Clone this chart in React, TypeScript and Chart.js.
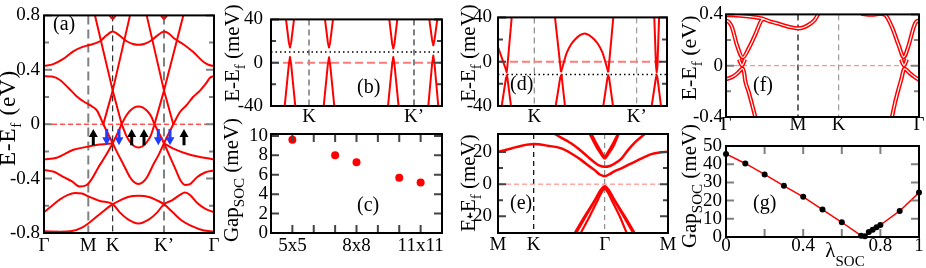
import React, { useEffect, useRef } from 'react';
import { Chart, registerables } from 'chart.js';

Chart.register(...registerables);

const W = 926;
const H = 268;
const SERIF = '"Liberation Serif", "Times New Roman", Times, serif';
const RED = '#ff0000';
const PINK = '#ff7a7a';
const GRAY = '#808080';
const BLUE = '#1f3cff';
const YW = 40;
const XH = 24;

// ---------------- Panel (a): bands, E-Ef (eV) vs k-path ----------------
const aXTicks = [0, 0.443, 0.687, 1.2, 1.7];
const aXLabels = ['Γ', 'M', 'K', 'K’', 'Γ'];
const aYTicks = [-0.8, -0.4, 0, 0.4, 0.8];
const aYLabels = ['-0.8', '-0.4', '0', '0.4', '0.8'];
const aYMinor = [-0.6, -0.2, 0.2, 0.6];

const aU1K = [0, 0.093, 0.193, 0.293, 0.393, 0.443, 0.56, 0.62, 0.687, 0.75, 0.827, 0.89, 0.944, 1.0, 1.06, 1.14, 1.2, 1.26, 1.293, 1.393, 1.493, 1.593, 1.65, 1.7];
const aU1E = [0.428, 0.442, 0.48, 0.536, 0.57, 0.58, 0.61, 0.65, 0.682, 0.655, 0.61, 0.59, 0.584, 0.59, 0.61, 0.655, 0.682, 0.66, 0.635, 0.588, 0.53, 0.459, 0.435, 0.428];
const aU2LK = [0, 0.08, 0.16, 0.24, 0.32, 0.4, 0.46, 0.53, 0.593];
const aU2LE = [0.353, 0.35, 0.325, 0.27, 0.21, 0.165, 0.14, 0.1, 0];
const aU2RK = [1.293, 1.36, 1.427, 1.49, 1.56, 1.62, 1.66, 1.7];
const aU2RE = [0, 0.09, 0.141, 0.2, 0.247, 0.3, 0.341, 0.353];
const aLAK = [0.51, 0.687, 0.777];
const aLBK = [0.86, 0.687, 0.593];
const aLCK = [1.027, 1.2, 1.293];
const aLDK = [1.393, 1.2, 1.105];
const aConeE = [0.8, 0.247, 0];
const aDomeK = [0.777, 0.82, 0.86, 0.9, 0.944, 0.99, 1.03, 1.07, 1.105];
const aDomeE = [0, 0.06, 0.099, 0.122, 0.13, 0.122, 0.099, 0.06, 0];
const aCupE = [0, -0.08, -0.13, -0.16, -0.172, -0.16, -0.13, -0.08, 0];
const aTopK1 = [0.64, 0.687, 0.73];
const aTopK2 = [1.155, 1.2, 1.245];
const aTopE = [0.82, 0.775, 0.82];
const aFlatLK = [0, 0.127, 0.293, 0.443, 0.56, 0.687];
const aFlatLE = [-0.259, -0.247, -0.188, -0.165, -0.15, -0.14];
const aFlatRK = [1.2, 1.293, 1.46, 1.7];
const aFlatRE = [-0.14, -0.18, -0.224, -0.259];
const aEK = [0.593, 0.687, 0.74, 0.793, 0.86, 0.9, 0.944, 0.99, 1.03, 1.095, 1.15, 1.2, 1.293];
const aEE = [0, -0.14, -0.22, -0.294, -0.39, -0.425, -0.44, -0.425, -0.39, -0.294, -0.22, -0.14, 0];
const aFK = [0, 0.1, 0.193, 0.28, 0.36, 0.427, 0.48, 0.543, 0.61, 0.687, 0.777];
const aFE = [-0.336, -0.35, -0.388, -0.42, -0.459, -0.447, -0.4, -0.318, -0.24, -0.14, 0];
const aGK = [1.105, 1.2, 1.26, 1.32, 1.37, 1.41, 1.46, 1.53, 1.61, 1.7];
const aGE = [0, -0.14, -0.24, -0.34, -0.42, -0.447, -0.44, -0.39, -0.355, -0.341];
const aP1K = [0, 0.08, 0.16, 0.24, 0.31, 0.38, 0.44, 0.56, 0.687, 0.76, 0.84, 0.944, 1.05, 1.13, 1.2, 1.28, 1.36, 1.41, 1.46, 1.53, 1.61, 1.7];
const aP1E = [-0.647, -0.6, -0.553, -0.52, -0.506, -0.51, -0.53, -0.565, -0.588, -0.65, -0.7, -0.73, -0.7, -0.65, -0.588, -0.56, -0.52, -0.503, -0.52, -0.577, -0.62, -0.647];
const aP2K = [0, 0.16, 0.28, 0.38, 0.443, 0.56, 0.687, 0.76, 0.84, 0.944, 1.05, 1.13, 1.2, 1.29, 1.38, 1.48, 1.59, 1.7];
const aP2E = [-0.788, -0.79, -0.785, -0.76, -0.73, -0.66, -0.588, -0.56, -0.535, -0.527, -0.535, -0.56, -0.588, -0.65, -0.71, -0.75, -0.78, -0.79];
const aArrK = [0.493, 0.627, 0.75, 0.877, 1.0, 1.143, 1.26, 1.4];
const aArrUp = [true, false, false, true, true, false, false, true];
const aArrTop = -0.035;
const aArrBot = -0.155;

// ---------------- Panel (b): zoom near K, K' (meV) ----------------
const bXTicks = [0.38, 1.43];
const bXLabels = ['K', 'K’'];
const bYTicks = [-40, 0, 40];
const bYLabels = ['-40', '0', '40'];
const bYMinor = [-20, 20];
const b1UK = [0.15, 0.178, 0.19, 0.202, 0.23];
const b1UE = [40, 19, 14, 19, 40];
const b1LK = [0.137, 0.178, 0.19, 0.202, 0.243];
const b1LE = [-40, -2, 5.3, -2, -40];
const b2UK = [0.54, 0.568, 0.58, 0.592, 0.62];
const b2UE = [40, 19, 14, 19, 40];
const b2LK = [0.527, 0.568, 0.58, 0.592, 0.633];
const b2LE = [-40, -2, 5, -2, -40];
const b3UK = [1.183, 1.211, 1.223, 1.235, 1.263];
const b3UE = [40, 18, 13, 18, 40];
const b3LK = [1.17, 1.211, 1.223, 1.235, 1.276];
const b3LE = [-40, -2, 5.3, -2, -40];
const b4UK = [1.583, 1.611, 1.623, 1.635, 1.663];
const b4UE = [40, 21, 16, 21, 40];
const b4LK = [1.573, 1.611, 1.623, 1.635, 1.673];
const b4LE = [-40, -1, 6.6, -1, -40];
const bDotted = 10;

// ---------------- Panel (c): Gap_SOC vs supercell ----------------
const cSize = [5, 7, 8, 10, 11];
const cGap = [9.6, 8.0, 7.3, 5.7, 5.2];
const cXTicks = [5, 8, 11];
const cXLabels = ['5x5', '8x8', '11x11'];
const cXMarks = [5, 6, 7, 8, 9, 10, 11];
const cYTicks = [0, 2, 4, 6, 8, 10];
const cYLabels = ['0', '2', '4', '6', '8', '10'];

// ---------------- Panel (d) ----------------
const dXTicks = [0.363, 1.387];
const dV1K = [0, 0.077, 0.087, 0.095, 0.137];
const dV1E = [13.3, -6.5, -9.5, -3, 40];
const dL1K = [0.037, 0.08, 0.087, 0.094, 0.13];
const dArmLK = [0.57, 0.63];
const dArmLE = [40, -9.5];
const dDomeK = [0.63, 0.66, 0.687, 0.73, 0.77, 0.82, 0.867, 0.91, 0.963, 1.003, 1.046, 1.073, 1.103];
const dDomeE = [-9.5, 0, 7.9, 15.5, 20, 24, 25.5, 24, 20, 15.5, 7.9, 0, -9.5];
const dArmRK = [1.103, 1.153];
const dArmRE = [-9.5, 40];
const dL2K = [0.577, 0.622, 0.63, 0.638, 0.67];
const dL3K = [1.053, 1.095, 1.103, 1.111, 1.15];
const dV4K = [1.563, 1.58, 1.587, 1.594, 1.611];
const dV4E = [40, -4, -9.5, -4, 40];
const dL4K = [1.537, 1.579, 1.587, 1.595, 1.63];
const dLE = [-40, -14.5, -12.3, -14.5, -40];
const dDotted = -11.5;

// ---------------- Panel (e) ----------------
const eXTicks = [0, 0.357, 1.067, 1.7];
const eXLabels = ['M', 'K', 'Γ', 'M'];
const eYTicks = [-20, 0, 20];
const eYLabels = ['-20', '0', '20'];
const eYMinor = [-10, 10];
const eE1K = [0, 0.134, 0.237, 0.357, 0.497, 0.634, 0.737, 0.834, 0.917, 0.967, 1.017, 1.067, 1.117, 1.167, 1.234, 1.317, 1.4, 1.467, 1.534, 1.617, 1.7];
const eE1E = [20.2, 22.3, 24, 25, 24, 22.3, 19, 15, 11, 8.75, 6, 5, 6.3, 8.1, 9.8, 12.5, 15, 17, 18.75, 19.8, 20.2];
const eE2K = [0.567, 0.734, 0.817, 0.9, 0.967, 1.017, 1.067, 1.117, 1.167, 1.234, 1.3, 1.377, 1.467];
const eE2E = [31.3, 25.4, 21.5, 17, 13.5, 11.5, 10.8, 11.3, 12.9, 16, 21.25, 26.5, 31.3];
const eV1K = [0.917, 0.977, 1.027, 1.067, 1.107, 1.157, 1.207];
const eV1E = [31.3, 24, 19, 16, 19, 24, 31.3];
const eV2K = [0.937, 0.992, 1.035, 1.067, 1.099, 1.142, 1.197];
const eV2E = [31.3, 24.5, 20, 17.2, 20, 24.5, 31.3];
const eA1K = [0.767, 0.867, 0.967, 1.027, 1.067, 1.107, 1.167, 1.267, 1.367];
const eA1E = [-30.5, -20, -10, -3.5, -1.3, -3.5, -10, -20, -30.5];
const eA2K = [0.782, 0.879, 0.974, 1.03, 1.067, 1.104, 1.16, 1.255, 1.352];
const eA2E = [-30.5, -20, -10, -3.9, -1.8, -3.9, -10, -20, -30.5];
const eA3K = [0.827, 0.917, 0.997, 1.037, 1.067, 1.097, 1.137, 1.217, 1.287];
const eA3E = [-30.5, -20, -10, -5, -3, -5, -10, -20, -30.5];

// ---------------- Panel (f) ----------------
const fXTicks = [0, 0.72, 1.127, 1.93];
const fXLabels = ['Γ', 'M', 'K', 'Γ'];
const fYTicks = [-0.4, 0, 0.4];
const fYLabels = ['-0.4', '0', '0.4'];
const fYMinor = [-0.2, 0.2];
const fTopK = [0, 0.14, 0.29, 0.36, 0.44, 0.527, 0.62, 0.72, 0.78, 0.843, 0.89, 0.927];
const fTopE = [0.395, 0.39, 0.378, 0.368, 0.345, 0.327, 0.305, 0.291, 0.3, 0.327, 0.36, 0.41];
const fTopRK = [1.35, 1.45, 1.54];
const fTopRE = [0.405, 0.398, 0.405];
const fVLK = [0, 0.03, 0.06, 0.11, 0.167, 0.227, 0.293, 0.353, 0.38];
const fVLE = [0.352, 0.34, 0.3, 0.16, 0.064, 0.135, 0.243, 0.352, 0.365];
const fVRK = [1.54, 1.593, 1.66, 1.727, 1.777, 1.827, 1.877, 1.9, 1.93];
const fVRE = [0.405, 0.395, 0.3, 0.159, 0.067, 0.16, 0.3, 0.34, 0.352];
const fValLK = [0, 0.07, 0.12, 0.15, 0.165, 0.18, 0.193, 0.225, 0.26, 0.293];
const fValLE = [-0.106, -0.085, -0.055, -0.03, -0.022, -0.05, -0.12, -0.2, -0.3, -0.4];
const fValRK = [1.66, 1.69, 1.727, 1.755, 1.77, 1.782, 1.8, 1.84, 1.88, 1.93];
const fValRE = [-0.4, -0.29, -0.178, -0.1, -0.05, -0.025, -0.03, -0.06, -0.085, -0.111];
const fDLK = [0.13, 0.16, 0.19];
const fDRK = [1.75, 1.78, 1.81];
const fDE = [0.05, 0.003, 0.05];

// ---------------- Panel (g): Gap_SOC vs lambda_SOC ----------------
const gLambda = [0, 0.1, 0.2, 0.3, 0.4, 0.5, 0.6, 0.7, 0.72, 0.74, 0.76, 0.78, 0.8, 0.9, 1.0];
const gGap = [45.6, 40.4, 34.4, 28.1, 22.1, 15.1, 8.1, 0.7, 0.4, 2.8, 4.0, 5.3, 6.6, 14.3, 24.4];
const gXTicks = [0, 0.2, 0.4, 0.6, 0.8, 1];
const gXLabels = ['0', '', '0.4', '', '0.8', '1'];
const gYTicks = [0, 10, 20, 30, 40, 50];
const gYLabels = ['0', '10', '20', '30', '40', '50'];

// ---------------- helpers ----------------
type Part = [string, boolean];
const T_EV: Part[] = [['E-E', false], ['f', true], [' (eV)', false]];
const T_MEV: Part[] = [['E-E', false], ['f', true], [' (meV)', false]];
const T_GAP: Part[] = [['Gap', false], ['SOC', true], [' (meV)', false]];
const T_LAM: Part[] = [['λ', false], ['SOC', true]];

const line = (k: number[], e: number[], smooth: boolean, width = 2, color = RED, order = 5) => ({
  data: k.map((x, i) => ({ x, y: e[i] })),
  showLine: true,
  borderColor: color,
  backgroundColor: color,
  borderWidth: width,
  pointRadius: 0,
  pointHoverRadius: 0,
  tension: smooth ? 0.4 : 0,
  cubicInterpolationMode: smooth ? 'monotone' : 'default',
  borderJoinStyle: 'round',
  clip: 0,
  order,
});

const dbl = (k: number[], e: number[]) => [line(k, e, true, 4.2, RED, 3), line(k, e, true, 1.2, '#ffffff', 1)];

interface LineSpec { v: number; color: string; width: number; dash: number[] }
interface TitleSpec { parts: Part[]; x: number; y: number; size: number; sub: number; off: number; spacing: number }
interface PanelCfg {
  rect: [number, number, number, number];
  xr: [number, number];
  yr: [number, number];
  xt: number[];
  xl: string[];
  xpad: number;
  yt: number[];
  yl: string[];
  ypad: number;
  yMinor: number[];
  xMarks: number[];
  tickColor: string;
  datasets: any[];
  vlines: LineSpec[];
  hlines: LineSpec[];
  label: [string, number, number];
  ytitle: TitleSpec;
  xtitle?: TitleSpec;
  arrows?: boolean;
}

function drawRich(ctx: any, t: TitleSpec, rotate: boolean) {
  ctx.save();
  ctx.translate(t.x, t.y);
  if (rotate) ctx.rotate(-Math.PI / 2);
  ctx.textAlign = 'left';
  ctx.textBaseline = 'alphabetic';
  ctx.fillStyle = '#000';
  const meas = (s: string, sub: boolean) => {
    ctx.font = `${sub ? t.sub : t.size}px ${SERIF}`;
    return ctx.measureText(s).width + t.spacing * s.length;
  };
  let w = 0;
  for (const [s, sub] of t.parts) w += meas(s, sub);
  let cx = -w / 2;
  for (const [s, sub] of t.parts) {
    ctx.font = `${sub ? t.sub : t.size}px ${SERIF}`;
    if (t.spacing === 0) {
      ctx.fillText(s, cx, sub ? t.off : 0);
      cx += ctx.measureText(s).width;
    } else {
      for (const ch of s) {
        ctx.fillText(ch, cx, sub ? t.off : 0);
        cx += ctx.measureText(ch).width + t.spacing;
      }
    }
  }
  ctx.restore();
}

function makeDecor(p: PanelCfg) {
  return {
    id: 'decor',
    beforeDatasetsDraw(chart: any) {
      const { ctx, chartArea: ca, scales } = chart;
      ctx.save();
      ctx.beginPath();
      ctx.rect(ca.left, ca.top, ca.right - ca.left, ca.bottom - ca.top);
      ctx.clip();
      for (const l of p.vlines) {
        const x = scales.x.getPixelForValue(l.v);
        ctx.strokeStyle = l.color;
        ctx.lineWidth = l.width;
        ctx.setLineDash(l.dash);
        ctx.beginPath();
        ctx.moveTo(x, ca.top);
        ctx.lineTo(x, ca.bottom);
        ctx.stroke();
      }
      for (const l of p.hlines) {
        const y = scales.y.getPixelForValue(l.v);
        ctx.strokeStyle = l.color;
        ctx.lineWidth = l.width;
        ctx.setLineDash(l.dash);
        ctx.beginPath();
        ctx.moveTo(ca.left, y);
        ctx.lineTo(ca.right, y);
        ctx.stroke();
      }
      ctx.restore();
    },
    afterDatasetsDraw(chart: any) {
      const { ctx, chartArea: ca, scales } = chart;
      const xs = scales.x;
      const ys = scales.y;
      ctx.save();
      ctx.setLineDash([]);
      if (p.arrows) {
        for (let i = 0; i < aArrK.length; i++) {
          const x = xs.getPixelForValue(aArrK[i]);
          const yT = ys.getPixelForValue(aArrTop);
          const yB = ys.getPixelForValue(aArrBot);
          const up = aArrUp[i];
          const col = up ? '#000000' : BLUE;
          ctx.strokeStyle = col;
          ctx.fillStyle = col;
          ctx.lineWidth = 3;
          const head = 7;
          const hw = 4.5;
          ctx.beginPath();
          if (up) { ctx.moveTo(x, yB); ctx.lineTo(x, yT + head); } else { ctx.moveTo(x, yT); ctx.lineTo(x, yB - head); }
          ctx.stroke();
          ctx.beginPath();
          if (up) { ctx.moveTo(x, yT); ctx.lineTo(x - hw, yT + head + 1); ctx.lineTo(x + hw, yT + head + 1); }
          else { ctx.moveTo(x, yB); ctx.lineTo(x - hw, yB - head - 1); ctx.lineTo(x + hw, yB - head - 1); }
          ctx.closePath();
          ctx.fill();
        }
      }
      ctx.strokeStyle = p.tickColor;
      ctx.lineWidth = 2;
      ctx.beginPath();
      const yTick = (v: number, len: number) => {
        const y = ys.getPixelForValue(v);
        ctx.moveTo(ca.left, y); ctx.lineTo(ca.left + len, y);
        ctx.moveTo(ca.right, y); ctx.lineTo(ca.right - len, y);
      };
      p.yt.forEach((v) => yTick(v, 8));
      p.yMinor.forEach((v) => yTick(v, 5));
      p.xMarks.forEach((v) => {
        const x = xs.getPixelForValue(v);
        ctx.moveTo(x, ca.bottom); ctx.lineTo(x, ca.bottom - 8);
        ctx.moveTo(x, ca.top); ctx.lineTo(x, ca.top + 8);
      });
      ctx.stroke();
      ctx.strokeStyle = '#000';
      ctx.lineWidth = 2;
      ctx.strokeRect(ca.left, ca.top, ca.right - ca.left, ca.bottom - ca.top);
      ctx.fillStyle = '#000';
      ctx.font = `20px ${SERIF}`;
      ctx.textAlign = 'left';
      ctx.textBaseline = 'alphabetic';
      ctx.fillText(p.label[0], p.label[1], p.label[2]);
      ctx.restore();
      drawRich(ctx, p.ytitle, true);
      if (p.xtitle) drawRich(ctx, p.xtitle, false);
    },
  };
}

function buildConfig(p: PanelCfg): any {
  const [l, t, r, b] = p.rect;
  const font = { family: SERIF, size: 19 };
  return {
    type: 'scatter',
    data: { datasets: p.datasets },
    options: {
      responsive: false,
      animation: false,
      devicePixelRatio: 1,
      events: [],
      layout: { autoPadding: false, padding: { left: l - YW, top: t, right: W - r, bottom: H - b - XH } },
      plugins: { legend: { display: false }, tooltip: { enabled: false } },
      scales: {
        x: {
          type: 'linear',
          min: p.xr[0],
          max: p.xr[1],
          grid: { display: false, drawTicks: false },
          border: { display: false },
          afterBuildTicks: (s: any) => { s.ticks = p.xt.map((v) => ({ value: v })); },
          afterFit: (s: any) => { s.height = XH; },
          ticks: { font, color: '#000', padding: p.xpad, maxRotation: 0, minRotation: 0, autoSkip: false, callback: (_v: any, i: number) => p.xl[i] },
        },
        y: {
          type: 'linear',
          min: p.yr[0],
          max: p.yr[1],
          grid: { display: false, drawTicks: false },
          border: { display: false },
          afterBuildTicks: (s: any) => { s.ticks = p.yt.map((v) => ({ value: v })); },
          afterFit: (s: any) => { s.width = YW; },
          ticks: { font, color: '#000', padding: p.ypad, autoSkip: false, callback: (_v: any, i: number) => p.yl[i] },
        },
      },
    },
    plugins: [makeDecor(p)],
  };
}

const title = (parts: Part[], x: number, y: number, size = 21, spacing = 0): TitleSpec => ({ parts, x, y, size, sub: 15, off: 6, spacing });

// ---------------- panels ----------------
const PANELS: PanelCfg[] = [
  {
    rect: [44, 7, 214, 233], xr: [0, 1.7], yr: [-0.8, 0.8],
    xt: aXTicks, xl: aXLabels, xpad: 2, yt: aYTicks, yl: aYLabels, ypad: 4, yMinor: aYMinor, xMarks: [], tickColor: GRAY,
    datasets: [
      line(aU1K, aU1E, true), line(aU2LK, aU2LE, true), line(aU2RK, aU2RE, true),
      line(aLAK, aConeE, false), line(aLBK, aConeE, false), line(aLCK, aConeE, false), line(aLDK, aConeE, false),
      line(aDomeK, aDomeE, true), line(aDomeK, aCupE, true), line(aTopK1, aTopE, true), line(aTopK2, aTopE, true),
      line(aFlatLK, aFlatLE, true), line(aFlatRK, aFlatRE, true), line(aEK, aEE, true), line(aFK, aFE, true), line(aGK, aGE, true),
      line(aP1K, aP1E, true), line(aP2K, aP2E, true),
    ],
    vlines: [
      { v: 0.443, color: GRAY, width: 2, dash: [9, 5] },
      { v: 0.687, color: '#000', width: 1, dash: [6, 4] },
      { v: 1.2, color: GRAY, width: 2, dash: [9, 5] },
    ],
    hlines: [{ v: 0, color: RED, width: 1, dash: [5, 3] }],
    label: ['(a)', 53, 30],
    ytitle: title(T_EV, 15, 118, 23, 0.8),
    arrows: true,
  },
  {
    rect: [271, 7, 442, 106], xr: [0, 1.71], yr: [-40, 40],
    xt: bXTicks, xl: bXLabels, xpad: 0, yt: bYTicks, yl: bYLabels, ypad: 8, yMinor: bYMinor, xMarks: [], tickColor: '#444',
    datasets: [
      line(b1UK, b1UE, false), line(b1LK, b1LE, false), line(b2UK, b2UE, false), line(b2LK, b2LE, false),
      line(b3UK, b3UE, false), line(b3LK, b3LE, false), line(b4UK, b4UE, false), line(b4LK, b4LE, false),
    ],
    vlines: [
      { v: 0.38, color: '#777', width: 1.5, dash: [6, 4] },
      { v: 1.43, color: '#000', width: 1, dash: [6, 4] },
    ],
    hlines: [
      { v: 0, color: PINK, width: 2, dash: [8, 4] },
      { v: bDotted, color: '#000', width: 1.5, dash: [1.5, 3] },
    ],
    label: ['(b)', 357, 93],
    ytitle: title(T_MEV, 239, 53),
  },
  {
    rect: [271, 134, 442, 233], xr: [4, 12], yr: [0, 10.2],
    xt: cXTicks, xl: cXLabels, xpad: 2, yt: cYTicks, yl: cYLabels, ypad: 3, yMinor: [], xMarks: cXMarks, tickColor: '#444',
    datasets: [{
      data: cSize.map((x, i) => ({ x, y: cGap[i] })),
      showLine: false, pointRadius: 4, pointBackgroundColor: RED, pointBorderColor: RED, pointBorderWidth: 0, clip: false,
    }],
    vlines: [], hlines: [],
    label: ['(c)', 357, 211],
    ytitle: title(T_GAP, 238, 180),
  },
  {
    rect: [498, 7, 667, 106], xr: [0, 1.69], yr: [-40, 40],
    xt: dXTicks, xl: bXLabels, xpad: 0, yt: bYTicks, yl: bYLabels, ypad: 6, yMinor: bYMinor, xMarks: [], tickColor: '#444',
    datasets: [
      line(dV1K, dV1E, false), line(dL1K, dLE, false), line(dArmLK, dArmLE, false), line(dDomeK, dDomeE, true),
      line(dArmRK, dArmRE, false), line(dL2K, dLE, false), line(dL3K, dLE, false), line(dV4K, dV4E, false), line(dL4K, dLE, false),
    ],
    vlines: [
      { v: 0.363, color: '#888', width: 1.2, dash: [6, 4] },
      { v: 1.387, color: '#888', width: 1, dash: [6, 4] },
    ],
    hlines: [
      { v: 0, color: PINK, width: 2, dash: [8, 4] },
      { v: dDotted, color: '#000', width: 1.5, dash: [1.5, 3] },
    ],
    label: ['(d)', 510, 90],
    ytitle: title(T_MEV, 475, 53),
  },
  {
    rect: [498, 134, 668, 233], xr: [0, 1.7], yr: [-30.5, 31.3],
    xt: eXTicks, xl: eXLabels, xpad: 1, yt: eYTicks, yl: eYLabels, ypad: 6, yMinor: eYMinor, xMarks: [], tickColor: '#444',
    datasets: [
      line(eE1K, eE1E, true, 2.5), line(eE2K, eE2E, true, 2.5),
      line(eV1K, eV1E, true, 2.2), line(eV2K, eV2E, true, 2.2),
      line(eA1K, eA1E, true, 2.2), line(eA2K, eA2E, true, 2.2), line(eA3K, eA3E, true, 2.2),
    ],
    vlines: [
      { v: 0.357, color: '#000', width: 1.2, dash: [5, 4] },
      { v: 1.067, color: '#777', width: 1, dash: [5, 4] },
    ],
    hlines: [{ v: 0, color: PINK, width: 1, dash: [5, 3] }],
    label: ['(e)', 510, 209],
    ytitle: title(T_MEV, 475, 183),
  },
  {
    rect: [726, 7, 919, 117], xr: [0, 1.93], yr: [-0.4, 0.4],
    xt: fXTicks, xl: fXLabels, xpad: -3, yt: fYTicks, yl: fYLabels, ypad: 3, yMinor: fYMinor, xMarks: [], tickColor: GRAY,
    datasets: [
      ...dbl(fTopK, fTopE), ...dbl(fTopRK, fTopRE), ...dbl(fVLK, fVLE), ...dbl(fVRK, fVRE),
      ...dbl(fValLK, fValLE), ...dbl(fValRK, fValRE), ...dbl(fDLK, fDE), ...dbl(fDRK, fDE),
    ],
    vlines: [
      { v: 0.72, color: '#000', width: 1.2, dash: [6, 4] },
      { v: 1.127, color: '#888', width: 1, dash: [6, 4] },
    ],
    hlines: [{ v: 0, color: PINK, width: 1, dash: [5, 3] }],
    label: ['(f)', 753, 91],
    ytitle: title(T_EV, 696, 58, 22),
  },
  {
    rect: [726, 146, 919, 237], xr: [0, 1], yr: [0, 50],
    xt: gXTicks, xl: gXLabels, xpad: -2, yt: gYTicks, yl: gYLabels, ypad: 4, yMinor: [], xMarks: [0.2, 0.4, 0.6, 0.8], tickColor: GRAY,
    datasets: [
      {
        data: gLambda.map((x, i) => ({ x, y: gGap[i] })),
        showLine: false, pointRadius: 3, pointBackgroundColor: '#000', pointBorderColor: '#000', pointBorderWidth: 0, clip: false, order: 1,
      },
      line(gLambda, gGap, false, 1.5, RED, 2),
    ],
    vlines: [], hlines: [],
    label: ['(g)', 753, 209],
    ytitle: title(T_GAP, 696, 186),
    xtitle: { parts: T_LAM, x: 845, y: 257, size: 21, sub: 15, off: 9, spacing: 0 },
  },
];

function ChartPanel({ cfg }: { cfg: PanelCfg }) {
  const ref = useRef<HTMLCanvasElement>(null);
  useEffect(() => {
    const chart = new Chart(ref.current as HTMLCanvasElement, buildConfig(cfg));
    return () => chart.destroy();
  }, [cfg]);
  return (
    <canvas
      ref={ref}
      width={W}
      height={H}
      style={{ position: 'absolute', left: 0, top: 0, width: W, height: H }}
    />
  );
}

export default function App() {
  return (
    <div style={{ position: 'absolute', left: 0, top: 0, width: W, height: H, background: '#ffffff', overflow: 'hidden' }}>
      {PANELS.map((p, i) => (
        <ChartPanel key={i} cfg={p} />
      ))}
    </div>
  );
}
